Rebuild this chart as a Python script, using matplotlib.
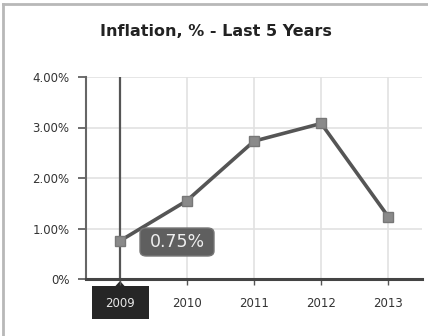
import matplotlib
matplotlib.use("Agg")
import matplotlib.pyplot as plt
from matplotlib.patches import FancyBboxPatch, Rectangle, Polygon
from matplotlib.lines import Line2D

years = ["2009", "2010", "2011", "2012", "2013"]
inflation = [0.75, 1.55, 2.73, 3.08, 1.23]
y_ticks = [0, 1, 2, 3, 4]
y_labels = ["0%", "1.00%", "2.00%", "3.00%", "4.00%"]
title = "Inflation, % - Last 5 Years"
highlight = 0  # index of the hovered point

W, H = 428, 336
fig = plt.figure(figsize=(W / 100, H / 100), dpi=100)
fig.patch.set_facecolor("white")

# outer frame (left and top edges)
fig.add_artist(Line2D([3 / W, 3 / W], [0, 1 - 4 / H], transform=fig.transFigure,
                      color="#b8b8b8", lw=2))
fig.add_artist(Line2D([3 / W, 1], [1 - 4 / H, 1 - 4 / H], transform=fig.transFigure,
                      color="#b8b8b8", lw=2))

# hovered x label background (drawn beneath the axes layer)
fig.add_artist(Rectangle((92 / W, 1 - 319 / H), 57 / W, 33 / H,
                         transform=fig.transFigure, facecolor="#262626",
                         edgecolor="none", zorder=-1))
fig.add_artist(Polygon([[115 / W, 1 - 286.5 / H], [125 / W, 1 - 286.5 / H],
                        [120 / W, 1 - 281 / H]], closed=True,
                       transform=fig.transFigure, facecolor="#262626",
                       edgecolor="none", zorder=-1))

ax = fig.add_axes([86 / W, 1 - 279 / H, (422 - 86) / W, (279 - 77) / H])
ax.patch.set_alpha(0)
x = list(range(len(years)))

ax.set_xlim(-0.5, len(years) - 0.5)
ax.set_ylim(0, 4)
ax.set_yticks(y_ticks)
ax.set_yticklabels(y_labels)
ax.set_xticks(x)
ax.set_xticklabels(years)

ax.grid(True, color="#e2e2e2", lw=1.2)
ax.set_axisbelow(True)
for s in ["top", "right"]:
    ax.spines[s].set_visible(False)
ax.spines["left"].set_color("#666666")
ax.spines["left"].set_linewidth(1.5)
ax.spines["bottom"].set_color("#444444")
ax.spines["bottom"].set_linewidth(2.2)

ax.tick_params(axis="y", length=6, width=1.2, color="#555555", labelsize=8.5,
               labelcolor="#333333", pad=6)
ax.tick_params(axis="x", length=4, width=1, color="#555555", labelsize=8.5,
               labelcolor="#333333", pad=9)

# crosshair on hovered point
ax.axvline(x[highlight], color="#555555", lw=1.6, zorder=2)

ax.plot(x, inflation, color="#555555", lw=2.6, zorder=3,
        marker="s", markersize=7.5, markerfacecolor="#8a8a8a",
        markeredgecolor="#777777", markeredgewidth=1)

ax.get_xticklabels()[highlight].set_color("#e8e8e8")

# tooltip
fig.add_artist(FancyBboxPatch((140 / W, 1 - 256 / H), 74 / W, 28 / H,
                              boxstyle="round,pad=0,rounding_size=0.015",
                              transform=fig.transFigure, facecolor="#5f5f5f",
                              edgecolor="#777777", lw=1, zorder=7))
fig.text(177 / W, 1 - 242 / H, f"{inflation[highlight]:.2f}%", color="#eeeeee",
         fontsize=12.5, ha="center", va="center", zorder=8)

fig.text(216 / W, 1 - 32 / H, title, ha="center", va="center",
         fontsize=11.5, fontweight="bold", color="#222222")

fig.savefig("out.png", dpi=100, facecolor="white")
